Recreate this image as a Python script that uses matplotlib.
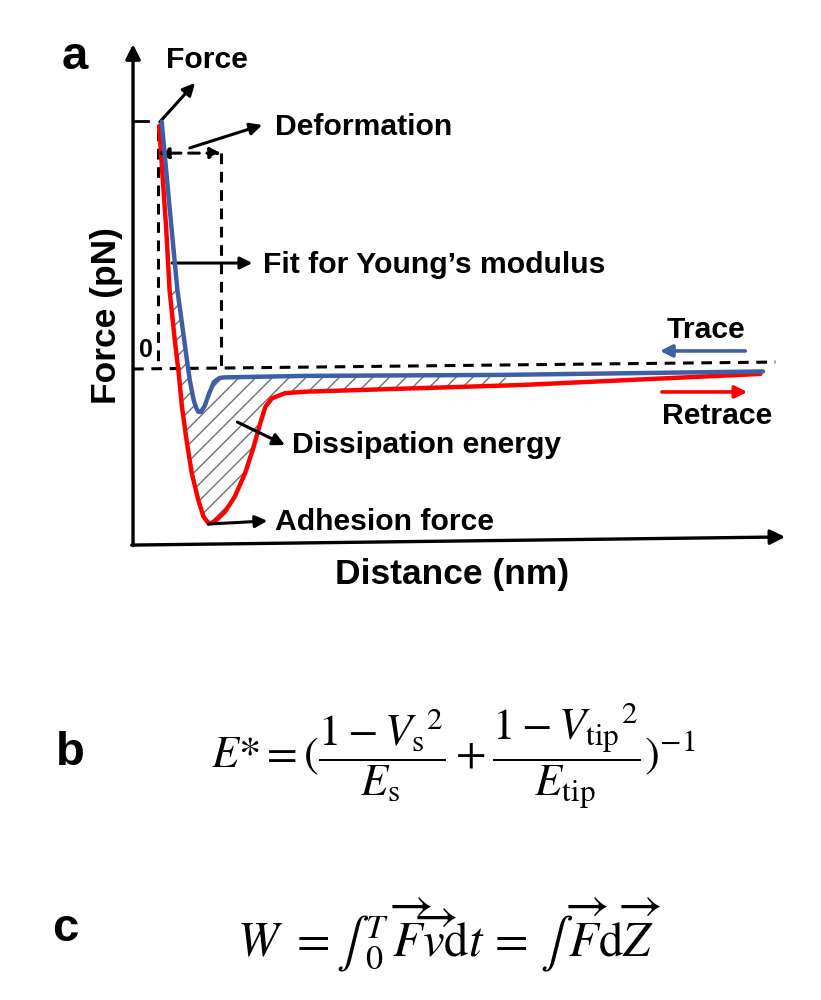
import matplotlib
matplotlib.use('Agg')
import matplotlib.pyplot as plt
import numpy as np

plt.rcParams['font.family'] = ['Liberation Sans', 'DejaVu Sans']
plt.rcParams['mathtext.fontset'] = 'stix'
plt.rcParams['hatch.linewidth'] = 1.0

# approach (trace) curve, distance (nm) vs force (pN)
trace_d = [4.4, 5.5, 6.8, 7.5, 8.2, 8.7, 9.3, 9.7, 10.0, 10.4, 10.6, 11.0, 11.3,
           11.7, 12.1, 12.4, 12.8, 13.3, 14.1, 26.4, 56.3, 96.6]
trace_f = [100.1, 68.4, 32.0, 18.6, 4.9, -4.5, -12.6, -15.8, -17.3, -17.4, -16.6,
           -15.0, -12.6, -9.7, -7.2, -5.3, -4.5, -3.6, -3.4, -2.8, -2.4, -1.0]

# retract (retrace) curve
retrace_d = [4.0, 5.1, 5.6, 6.4, 7.0, 7.5, 8.2, 9.0, 10.0, 10.8, 11.6, 12.1, 12.8,
             14.1, 15.6, 17.2, 18.5, 19.5, 20.3, 21.3, 23.3, 26.4, 59.4, 96.2]
retrace_f = [98.4, 56.3, 32.0, 11.7, -1.6, -15.3, -28.7, -42.1, -53.0, -59.8, -62.5,
             -62.3, -61.1, -57.8, -51.7, -42.1, -31.5, -22.0, -15.3, -11.9, -9.8,
             -9.2, -6.5, -2.0]

peak_force = 100.4
deform_d = [3.8, 13.5]      # start / end of the indentation box
deform_f = 87.4

blue = '#3d5fa6'
red = '#ff0000'

fig = plt.figure(figsize=(8.21, 10), dpi=100)
ax = fig.add_axes([0, 0, 1, 1])
ax.set_xlim(-20.4, 105.5)
ax.set_ylim(-255.5, 149.4)
ax.axis('off')

# dissipation area between the two curves
td, tf = np.array(trace_d), np.array(trace_f)
rd, rf = np.array(retrace_d), np.array(retrace_f)
mt = (td >= 6.7) & (td <= 57)
mr = (rd >= 5.5) & (rd <= 60)
poly_x = np.concatenate([td[mt], rd[mr][::-1]])
poly_y = np.concatenate([tf[mt], rf[mr][::-1]])
ax.fill(poly_x, poly_y, facecolor='none', edgecolor='#707070', hatch='//', lw=0)

ax.plot(retrace_d, retrace_f, color=red, lw=3.2, solid_capstyle='round', zorder=3)
ax.plot(trace_d, trace_f, color=blue, lw=3.2, solid_capstyle='round', zorder=4)

# axes with arrows
arr = dict(arrowstyle='-|>', color='k', lw=2.4, mutation_scale=22, shrinkA=0, shrinkB=0)
ax.annotate('', xy=(0, 131.5), xytext=(0, -71.5), arrowprops=arr)
ax.annotate('', xy=(100, -68.0), xytext=(-0.2, -71.3), arrowprops=arr)
ax.plot([0, 2.3], [peak_force, peak_force], color='k', lw=2)

# dashed guides
dash = dict(color='k', lw=2.2, linestyle=(0, (3.5, 2.5)))
ax.plot([0, 98.5], [0, 2.8], **dash)
ax.plot([deform_d[0], deform_d[0]], [96.8, 0], **dash)
ax.plot([deform_d[1], deform_d[1]], [deform_f, 0], **dash)
ax.annotate('', xy=(deform_d[0], deform_f), xytext=(deform_d[1], deform_f),
            arrowprops=dict(arrowstyle='<|-|>', color='k', lw=2.2, linestyle=(0, (3.5, 2.5)),
                            mutation_scale=16, shrinkA=0, shrinkB=0))

ax.text(2.0, 7.7, '0', fontsize=18, fontweight='bold', ha='center', va='center')

# annotations
pt = dict(arrowstyle='-|>', color='k', lw=2.2, mutation_scale=18, shrinkA=0, shrinkB=0)
lab = dict(fontsize=21.7, fontweight='bold', va='center')
ax.annotate('', xy=(9.5, 115.8), xytext=(4.1, 100.0), arrowprops=pt)
ax.text(11.3, 125.1, 'Force', ha='center', **lab)
ax.annotate('', xy=(19.8, 98.8), xytext=(8.7, 89.5), arrowprops=pt)
ax.text(21.8, 98.0, 'Deformation', ha='left', **lab)
ax.annotate('', xy=(18.3, 42.9), xytext=(6.0, 42.9), arrowprops=pt)
ax.text(19.9, 42.1, 'Fit for Young\u2019s modulus', ha='left', **lab)
ax.annotate('', xy=(23.3, -30.8), xytext=(16.0, -21.5), arrowprops=pt)
ax.text(24.4, -30.8, 'Dissipation energy', ha='left', **lab)
ax.annotate('', xy=(20.6, -61.5), xytext=(11.5, -62.8), arrowprops=pt)
ax.text(21.8, -61.9, 'Adhesion force', ha='left', **lab)

ax.text(87.9, 15.8, 'Trace', ha='center', **lab)
ax.annotate('', xy=(80.8, 7.3), xytext=(93.9, 7.3),
            arrowprops=dict(pt, color=blue, lw=2.6))
ax.text(89.6, -19.0, 'Retrace', ha='center', **lab)
ax.annotate('', xy=(94.2, -9.3), xytext=(81.1, -9.3),
            arrowprops=dict(pt, color=red, lw=2.6))

ax.text(-4.1, 21.5, 'Force (pN)', fontsize=25.5, fontweight='bold', rotation=90,
        ha='center', va='center')
ax.text(48.9, -83.4, 'Distance (nm)', fontsize=25.5, fontweight='bold',
        ha='center', va='center')

# panel letters and equations
fig.text(0.091, 0.943, 'a', fontsize=34, fontweight='bold', ha='center', va='center')
fig.text(0.086, 0.247, 'b', fontsize=34, fontweight='bold', ha='center', va='center')
fig.text(0.080, 0.071, 'c', fontsize=34, fontweight='bold', ha='center', va='center')

eq_b = (r'$E{*}=(\dfrac{1-V_{\mathrm{s}}{}^{2}}{E_{\mathrm{s}}}+'
        r'\dfrac{1-V_{\mathrm{tip}}{}^{2}}{E_{\mathrm{tip}}})^{-1}$')
eq_c = (r'$W\ =\int\,_{0}^{T}\,\overrightarrow{F}\overrightarrow{v}\mathrm{d}t\,=\,'
        r'\int\,\overrightarrow{F}\mathrm{d}\overrightarrow{Z}$')
fig.text(0.552, 0.244, eq_b, fontsize=32, ha='center', va='center')
fig.text(0.547, 0.065, eq_c, fontsize=35, ha='center', va='center')

fig.savefig('out.png', dpi=100)
